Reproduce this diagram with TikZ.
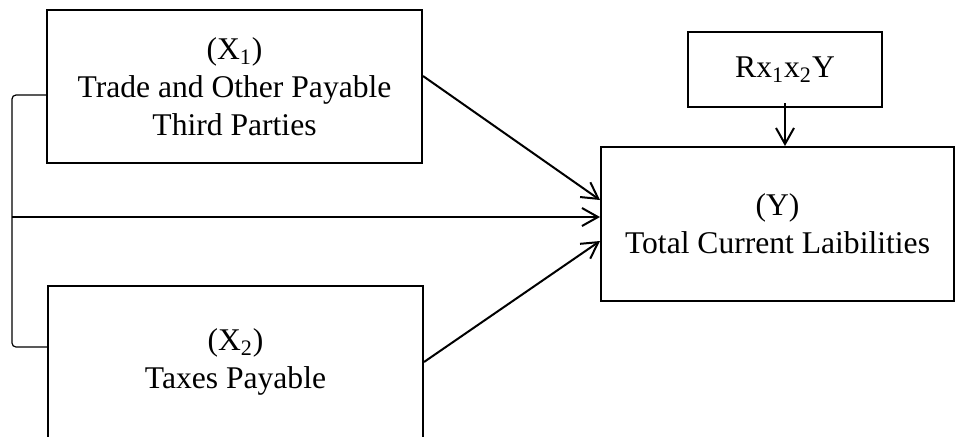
\documentclass[tikz,border=0pt]{standalone}
\usepackage{fontspec}
\setmainfont{Liberation Serif}
\usetikzlibrary{arrows.meta}

\tikzset{
    varbox/.style={draw, line width=1pt, align=center, inner sep=0pt,
        font=\fontsize{15.8}{19}\selectfont},
    link/.style={line width=1pt, -{Straight Barb[length=8pt,width=9pt,line width=1pt]}},
}

\begin{document}
\begin{tikzpicture}[x=0.5pt, y=-0.5pt]
    \useasboundingbox (0,0) rectangle (968,436);

    \node[varbox, minimum width=187.5pt, minimum height=76.5pt, anchor = center] (x1) at (234.5,86.5)
        {(X\textsubscript{1})\\Trade and Other Payable\\Third Parties};
    \node[varbox, minimum width=187.5pt, minimum height=76pt, anchor = center] (x2) at (235.5,362)
        {(X\textsubscript{2})\\Taxes Payable};
    \node[varbox, minimum width=176.5pt, minimum height=77pt, anchor = center] (y) at (777.5,224)
        {(Y)\\Total Current Laibilities};
    \node[varbox, minimum width=97pt, minimum height=37.5pt, anchor = center] (r) at (785,69.5)
        {Rx\textsubscript{1}x\textsubscript{2}Y};

    % bracket joining X1 and X2
    \coordinate (brk) at (12,217);
    \draw[line width=0.6pt, rounded corners=2pt] ([yshift=-4.25pt]x1.west) -| (brk) |- ([yshift=7.5pt]x2.west);

    % arrows to Y
    \draw[link] ([yshift=5.25pt]x1.east) -- ([yshift=12pt]y.west);
    \draw[link] (brk) -- (brk -| y.west);
    \draw[link] (x2.east) -- ([yshift=-8.5pt]y.west);
    \draw[link] ([yshift=2.5pt]r.south) -- (r.south |- y.north);
\end{tikzpicture}
\end{document}
